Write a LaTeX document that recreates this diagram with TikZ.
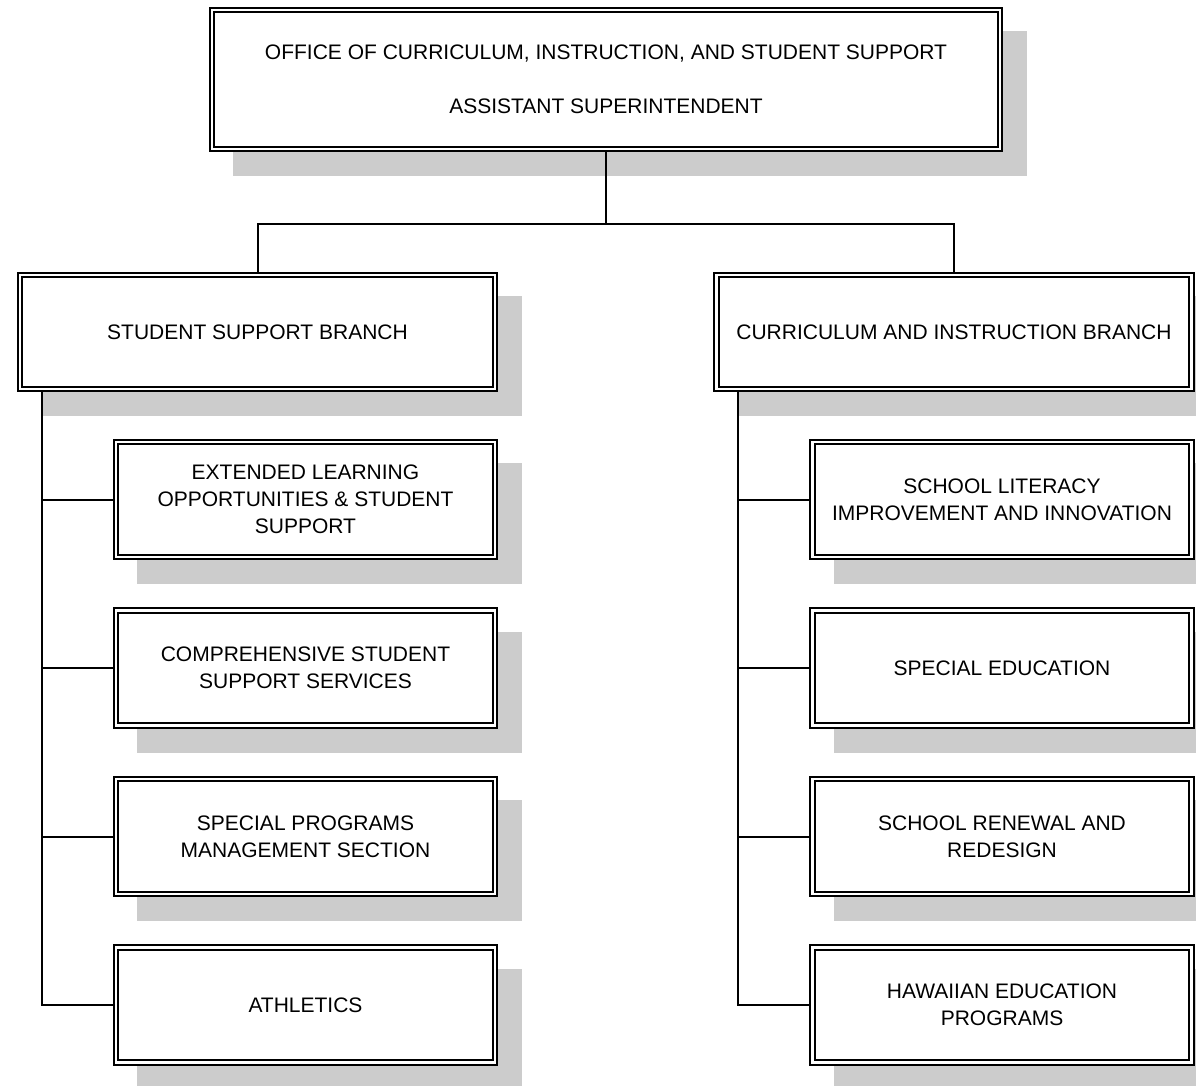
\documentclass[tikz,border=0pt]{standalone}
\usepackage{fontspec}
\setmainfont{Liberation Sans}
\usepackage{tikz}
\usetikzlibrary{positioning,backgrounds}
\pgfdeclarelayer{shadowlayer}
\pgfsetlayers{shadowlayer,background,main}

\begin{document}
\begin{tikzpicture}[
  x=1pt,y=-1pt,
  node distance=53.5pt,
  every node/.style={rectangle,draw,fill=white,double,double distance=2.6pt,line width=1.8pt,
    outer sep=0pt,inner sep=0pt,align=center,font=\fontsize{21}{27}\selectfont},
  head/.style={minimum width=788pt,minimum height=139pt},
  branch/.style={minimum width=475pt,minimum height=114pt},
  unit/.style={minimum width=379pt,minimum height=115pt},
  link/.style={line width=2pt},
  shadowfill/.style={fill=black!20},
]
\useasboundingbox (0,0) rectangle (1196,1085);

% Office
\node[head] (office) at (606,79.5) {OFFICE OF CURRICULUM, INSTRUCTION, AND STUDENT SUPPORT\\[27pt]ASSISTANT SUPERINTENDENT};

% Branches
\node[branch] (ssb) at (257.5,332) {STUDENT SUPPORT BRANCH};
\node[branch] (cib) at (954,332) {CURRICULUM AND INSTRUCTION BRANCH};

% Student support units
\node[unit] (elo) at (305.5,499.5) {EXTENDED LEARNING\\OPPORTUNITIES \& STUDENT\\SUPPORT};
\node[unit,below=of elo] (csss) {COMPREHENSIVE STUDENT\\SUPPORT SERVICES};
\node[unit,below=of csss] (spms) {SPECIAL PROGRAMS\\MANAGEMENT SECTION};
\node[unit,below=of spms] (ath) {ATHLETICS};

% Curriculum units
\node[unit] (sli) at (1002,499.5) {SCHOOL LITERACY\\IMPROVEMENT AND INNOVATION};
\node[unit,below=of sli] (sped) {SPECIAL EDUCATION};
\node[unit,below=of sped] (srr) {SCHOOL RENEWAL AND\\REDESIGN};
\node[unit,below=of srr] (hep) {HAWAIIAN EDUCATION\\PROGRAMS};

% Shadows
\begin{pgfonlayer}{shadowlayer}
\foreach \n in {office,ssb,cib,elo,csss,spms,ath,sli,sped,srr,hep}
  \fill[shadowfill] ([shift={(21pt,-27pt)}]\n.south west) rectangle ([shift={(27pt,-21pt)}]\n.north east);
\end{pgfonlayer}

% Lines
\begin{scope}[on background layer]
\coordinate (fork) at ([yshift=-75pt]office.south);
\draw[link] (office.south) -- (fork);
\draw[link] (ssb.north) |- (fork) -| (cib.north);
\coordinate (ssbspine) at ([xshift=22pt]ssb.south west);
\foreach \n in {elo,csss,spms,ath}
  \draw[link] (ssbspine) |- (\n.west);
\coordinate (cibspine) at ([xshift=21pt]cib.south west);
\foreach \n in {sli,sped,srr,hep}
  \draw[link] (cibspine) |- (\n.west);
\end{scope}
\end{tikzpicture}
\end{document}
